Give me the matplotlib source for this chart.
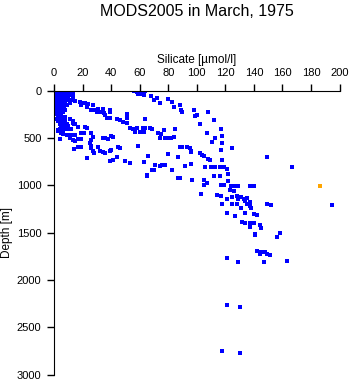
import matplotlib
matplotlib.use("Agg")
import matplotlib.pyplot as plt

plt.rcParams["font.family"] = ["Liberation Sans", "DejaVu Sans"]

TITLE = "MODS2005 in March, 1975"
XLABEL = "Silicate [µmol/l]"
YLABEL = "Depth [m]"
x_ticks = [0, 20, 40, 60, 80, 100, 120, 140, 160, 180, 200]
y_ticks = [0, 500, 1000, 1500, 2000, 2500, 3000]

# surface cluster, low silicate
surf_si = [1, 2, 3, 4, 5, 6, 7, 8, 9, 10, 11,
           1, 3, 5, 7, 9,
           2, 4, 6, 8, 10, 12,
           1, 3, 5, 7, 9,
           1, 2, 4, 6, 8, 11,
           1, 3, 5, 7, 10, 13,
           1, 2, 4, 6, 9, 12,
           2, 3, 5, 8, 11,
           1, 3, 6, 9,
           2, 4, 7,
           1, 3, 5, 8,
           2, 4, 6,
           2, 3, 5,
           3, 5, 8,
           2, 4, 7, 11,
           3, 5, 8, 13,
           4, 6, 9, 14,
           5, 8, 10,
           4, 7, 9, 12,
           3, 6, 5,
           11, 12, 13]
surf_depth = [0, 0, 0, 0, 0, 0, 0, 0, 0, 0, 0,
              10, 10, 10, 10, 10,
              20, 20, 20, 20, 20, 20,
              30, 30, 30, 30, 30,
              50, 50, 50, 50, 50, 50,
              75, 75, 75, 75, 75, 75,
              100, 100, 100, 100, 100, 100,
              125, 125, 125, 125, 125,
              150, 150, 150, 150,
              175, 175, 175,
              200, 200, 200, 200,
              225, 225, 225,
              250, 250, 250,
              275, 275, 275,
              300, 300, 300, 300,
              325, 325, 325, 325,
              350, 350, 350, 350,
              375, 375, 375,
              400, 400, 400, 400,
              425, 425, 450,
              0, 20, 40]

# remaining stations
si = [56, 58, 60, 62, 64, 61, 59, 63,
      68, 70, 72, 74, 80, 83, 84, 88, 90, 89,
      98, 99, 100, 108, 112, 102, 117,
      13, 15, 18, 20, 22, 24, 27, 19, 23,
      26, 28, 31, 34, 39, 30, 33, 35, 39, 37, 39, 36,
      44, 46, 48, 51, 51, 51,
      53, 55, 58, 62, 64, 57, 64, 67, 69,
      73, 75, 77, 74, 78, 80, 82, 84, 85,
      3, 5, 6, 4, 9, 12, 15, 19,
      11, 13, 15, 17, 19, 17, 22, 23, 13, 15, 11,
      26, 27, 26, 25, 26, 26, 27, 28,
      31, 32, 34, 36, 39, 40, 39, 41, 45, 46, 44, 50, 53,
      40, 41, 34, 36, 38, 23, 17, 19, 14, 21,
      59, 60, 63,
      66, 63, 80, 87, 96, 71, 74, 69, 83, 92, 96, 65,
      65, 70, 76, 78, 83, 87, 88, 97,
      88, 90, 93, 95, 96,
      107, 111, 113, 118, 118, 125,
      102, 104, 105, 108, 109, 117, 118,
      106, 110, 113, 116, 119, 121, 122,
      112, 116, 122, 105, 107, 105,
      117, 119, 124, 126, 129, 137, 140,
      149, 167,
      103, 114, 117, 121, 123, 126, 128,
      125, 131, 129, 133, 135,
      118, 125, 128, 134, 135, 137, 131, 138, 137,
      121, 127, 134, 140, 142,
      149, 152, 195,
      132, 134, 137, 140, 137, 144, 145,
      141, 141, 158, 156,
      142, 145, 148, 149, 144, 151,
      121, 129, 147, 163,
      121, 130, 118, 130]
depth = [5, 10, 0, 20, 5, 40, 30, 45,
         60, 100, 80, 130, 90, 120, 170, 150, 220, 200,
         200, 270, 260, 230, 310, 350, 400,
         100, 105, 120, 125, 130, 140, 150, 150, 170,
         200, 200, 195, 195, 205, 230, 230, 235, 230, 290, 285, 260,
         300, 310, 330, 250, 290, 340,
         395, 400, 395, 395, 395, 435, 300, 390, 400,
         450, 460, 410, 500, 500, 495, 500, 490, 400,
         420, 440, 460, 510, 470, 470, 470, 445,
         500, 520, 530, 510, 515, 380, 385, 390, 340, 350, 300,
         450, 490, 520, 550, 580, 610, 640, 660,
         600, 640, 650, 660, 640, 625, 740, 735, 600, 610, 700, 740, 760,
         480, 490, 500, 500, 510, 715, 600, 600, 620, 450,
         580, 440, 440,
         690, 750, 670, 705, 640, 790, 800, 840, 840, 800, 770, 890,
         900, 840, 790, 790, 840, 920, 925, 945,
         600, 600, 600, 610, 650,
         450, 540, 500, 480, 550, 610,
         660, 680, 690, 720, 730, 630, 730,
         805, 810, 810, 810, 810, 830, 880,
         905, 905, 955, 940, 975, 1000,
         1000, 1000, 1005, 1010, 1010, 1005, 1010,
         700, 810,
         1090, 1100, 1115, 1140, 1050, 1060, 1110,
         1125, 1125, 1140, 1140, 1130,
         1200, 1200, 1200, 1165, 1200, 1220, 1240, 1240, 1180,
         1290, 1320, 1290, 1300, 1310,
         1200, 1205, 1210,
         1390, 1400, 1400, 1395, 1440, 1420, 1450,
         1510, 1520, 1500, 1550,
         1690, 1700, 1700, 1720, 1730, 1740,
         1770, 1810, 1810, 1800,
         2260, 2290, 2745, 2770]

# flagged sample
flag_si = [186]
flag_depth = [1010]

fig = plt.figure(figsize=(3.51, 3.84), dpi=100)
ax = fig.add_axes([54 / 351, 1 - 374.7 / 384, 285.5 / 351, 284 / 384])

ax.scatter(surf_si, surf_depth, s=4.7, marker="s", color="#0000ff", linewidths=0)
ax.scatter(si, depth, s=4.7, marker="s", color="#0000ff", linewidths=0)
ax.scatter(flag_si, flag_depth, s=4.7, marker="s", color="#ffa500", linewidths=0)

ax.set_xlim(0, 200)
ax.set_ylim(3000, 0)
ax.set_xticks(x_ticks)
ax.set_yticks(y_ticks)
ax.xaxis.tick_top()
ax.xaxis.set_label_position("top")
ax.spines["right"].set_visible(False)
ax.spines["bottom"].set_visible(False)
ax.tick_params(axis="both", direction="out", length=5, width=1, labelsize=8, pad=4)
ax.set_xlabel(XLABEL, fontsize=8.5, labelpad=4)
ax.set_ylabel(YLABEL, fontsize=8.5, labelpad=3)
fig.text(197 / 351, 1 - 12 / 384, TITLE, ha="center", va="center", fontsize=11.5)

fig.savefig("out.png", dpi=100)
